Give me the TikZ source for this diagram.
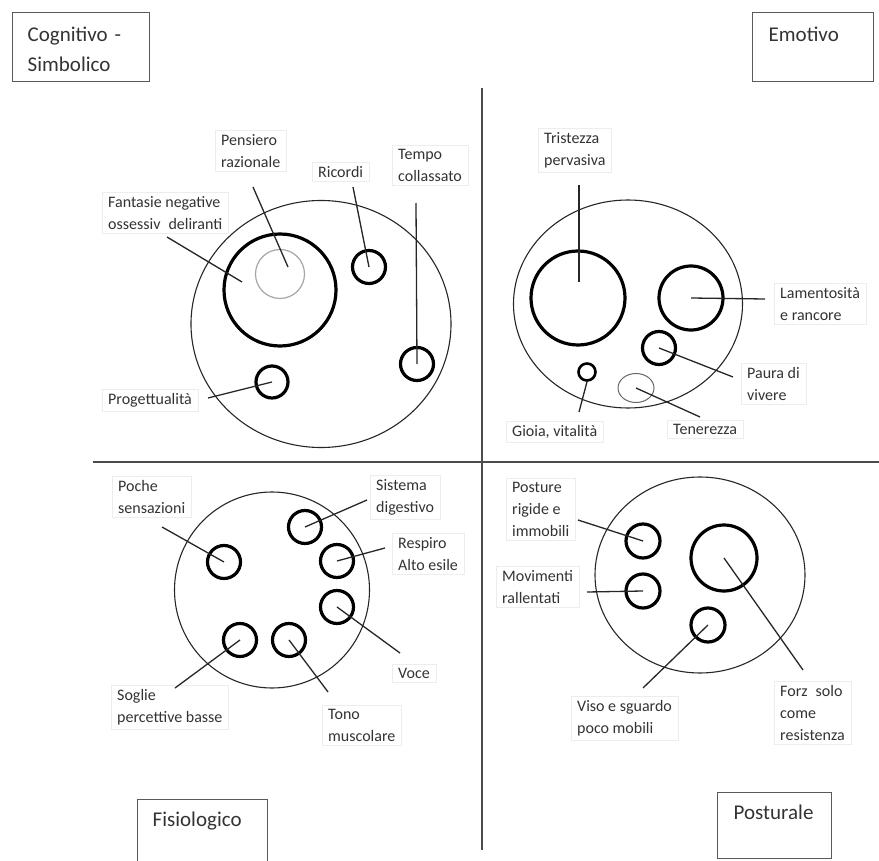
\documentclass[tikz,border=0pt]{standalone}
\usepackage{fontspec}
\setmainfont{Carlito}
\usetikzlibrary{shapes.geometric}

\newcommand{\labfont}{\fontsize{16}{22}\selectfont}
\newcommand{\ttlfont}{\fontsize{21}{30}\selectfont}

\begin{document}
\begin{tikzpicture}[
    x=1pt, y=-1pt,
    area/.style={ellipse, draw=black!85, line width=1.1pt, inner sep=0pt},
    ring/.style={circle, draw, line width=3.2pt, minimum size=#1, inner sep=0pt},
    lab/.style={draw=black!7, fill=white, align=left, anchor=west, font=\labfont, text=black!80, inner xsep=6pt, inner ysep=4pt},
    ttl/.style={draw=black!65, line width=1.4pt, anchor=north west, align=left, font=\ttlfont, text=black!80, inner ysep=0pt},
    link/.style={draw=black!85, line width=1.3pt},
    axis/.style={draw=black!70, line width=1.6pt}
  ]
  \useasboundingbox (0,0) rectangle (879,861);

  % assi dei quadranti
  \draw[axis] (482,88) -- (482,850);
  \draw[axis] (93,462) -- (879,462);

  % titoli
  \node[ttl, inner xsep=15pt, text width=107pt, text height=29pt, text depth=40pt] (cogn) at (12,12) {Cognitivo -\\Simbolico};
  \node[ttl, inner xsep=16pt, text width=89pt, text height=29pt, text depth=40pt] (emot) at (752,12) {Emotivo};
  \node[ttl, inner xsep=15pt, text width=100pt, text height=27pt, text depth=44pt] (fisio) at (137,799) {Fisiologico};
  \node[ttl, inner xsep=16pt, text width=82pt, text height=27pt, text depth=39pt] (postu) at (717,792) {Posturale};

  % aree
  \node[area, minimum width=260pt, minimum height=247pt] (cogA) at (321,324) {};
  \node[area, minimum width=229pt, minimum height=208pt] (emoA) at (628,304) {};
  \node[area, minimum width=195pt, minimum height=196pt] (fisA) at (272,590) {};
  \node[area, minimum width=210pt, minimum height=196pt] (posA) at (700,575) {};

  % etichette
  \node[lab] (pensL) at (215,151) {Pensiero\\razionale};
  \node[lab] (ricL) at (312,172) {Ricordi};
  \node[lab] (tempoL) at (392,165) {Tempo\\collassato};
  \node[lab] (fantL) at (102,213) {Fantasie negative\\ossessiv\enspace deliranti};
  \node[lab] (progL) at (102,400) {Progettualità};

  \node[lab] (tristL) at (538,150) {Tristezza\\pervasiva};
  \node[lab] (lamL) at (774,304) {Lamentosità\\e rancore};
  \node[lab] (pauraL) at (741,384) {Paura di\\vivere};
  \node[lab] (gioiaL) at (506,432) {Gioia, vitalità};
  \node[lab] (tenerL) at (667,429) {Tenerezza};

  \node[lab] (pocheL) at (112,497) {Poche\\sensazioni};
  \node[lab] (sistL) at (370,497) {Sistema\\digestivo};
  \node[lab] (respL) at (392,554) {Respiro\\Alto esile};
  \node[lab] (voceL) at (392,673) {Voce};
  \node[lab] (soglieL) at (111,707) {Soglie\\percettive basse};
  \node[lab] (tonoL) at (322,725) {Tono\\muscolare};

  \node[lab] (postL) at (506,509) {Posture\\rigide e\\immobili};
  \node[lab] (moviL) at (496,587) {Movimenti\\rallentati};
  \node[lab] (visoL) at (571,718) {Viso e sguardo\\poco mobili};
  \node[lab] (forzL) at (774,713) {Forz\enspace solo\\come\\resistenza};

  % cerchi - cognitivo
  \node[ring=112pt] (fant) at (280,290) {};
  \node[ring=49pt, draw=black!35, line width=1.2pt] (pens) at (280,274) {};
  \node[ring=33pt] (ric) at (369,267) {};
  \node[ring=33pt] (tempo) at (417,364) {};
  \node[ring=32pt] (prog) at (272,382) {};

  % cerchi - emotivo
  \node[ring=94pt] (trist) at (578,298) {};
  \node[ring=64pt] (lam) at (691,298) {};
  \node[ring=33pt] (paura) at (659,348) {};
  \node[ring=17pt, line width=2.6pt] (gioia) at (587,372) {};
  \node[ellipse, draw=black!60, line width=1pt, minimum width=36pt, minimum height=29pt, inner sep=0pt] (tener) at (636,388) {};

  % cerchi - fisiologico
  \node[ring=33pt] (sist) at (305,527) {};
  \node[ring=33pt] (resp) at (337,561) {};
  \node[ring=33pt] (poche) at (224,562) {};
  \node[ring=33pt] (voce) at (337,607) {};
  \node[ring=33pt] (soglie) at (240,640) {};
  \node[ring=33pt] (tono) at (289,640) {};

  % cerchi - posturale
  \node[ring=34pt] (post) at (643,541) {};
  \node[ring=34pt] (movi) at (643,591) {};
  \node[ring=66pt] (forza) at (724,558) {};
  \node[ring=34pt] (viso) at (708,625) {};

  % estremi liberi
  \coordinate (pensE) at (253,187);
  \coordinate (pensT) at (288,267);
  \coordinate (ricE) at (353,187);
  \coordinate (tempoE) at (416,203);
  \coordinate (fantE) at (167,237);
  \coordinate (fantT) at (242,282);
  \coordinate (progE) at (208,398);
  \coordinate (tristE) at (579,185);
  \coordinate (tristT) at (579,282);
  \coordinate (lamE) at (765,299);
  \coordinate (pauraE) at (733,377);
  \coordinate (gioiaE) at (579,412);
  \coordinate (tenerE) at (700,417);
  \coordinate (sistE) at (367,500);
  \coordinate (respE) at (385,548);
  \coordinate (pocheE) at (162,527);
  \coordinate (voceE) at (400,653);
  \coordinate (soglieE) at (175,688);
  \coordinate (tonoE) at (328,692);
  \coordinate (postE) at (578,520);
  \coordinate (moviE) at (587,592);
  \coordinate (forzaE) at (803,670);
  \coordinate (visoE) at (643,688);

  % collegamenti
  \draw[link] (pensE) -- (pensT);
  \draw[link] (ricE) -- (ric.center);
  \draw[link] (tempoE) -- (tempo.center);
  \draw[link] (fantE) -- (fantT);
  \draw[link] (progE) -- (prog.center);

  \draw[link] (tristE) -- (tristT);
  \draw[link] (lam.center) -- (lamE);
  \draw[link] (paura.center) -- (pauraE);
  \draw[link] (gioia.south) -- (gioiaE);
  \draw[link] (tener.center) -- (tenerE);

  \draw[link] (sist.center) -- (sistE);
  \draw[link] (resp.center) -- (respE);
  \draw[link] (pocheE) -- (poche.center);
  \draw[link] (voce.center) -- (voceE);
  \draw[link] (soglie.center) -- (soglieE);
  \draw[link] (tono.center) -- (tonoE);

  \draw[link] (postE) -- (post.center);
  \draw[link] (moviE) -- (movi.center);
  \draw[link] (forza.center) -- (forzaE);
  \draw[link] (viso.center) -- (visoE);
\end{tikzpicture}
\end{document}
